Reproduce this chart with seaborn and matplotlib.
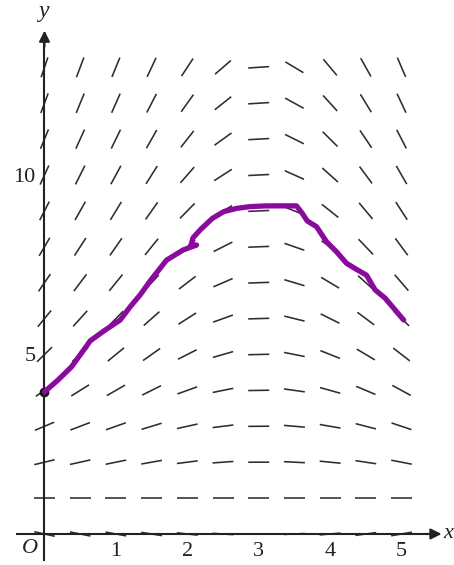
import numpy as np
import matplotlib
matplotlib.use("Agg")
import matplotlib.pyplot as plt
import seaborn as sns
from matplotlib.collections import LineCollection

# slope field grid
x_cols = [0.0, 0.5, 1.0, 1.5, 2.0, 2.5, 3.0, 3.5, 4.0, 4.5, 5.0]
y_rows = [0, 1, 2, 3, 4, 5, 6, 7, 8, 9, 10, 11, 12, 13]
# slope at (x, y) ~ x_factor[x] * y_factor[y]
x_factor = [2.2, 2.0, 1.85, 1.6, 1.15, 0.65, 0.05, -0.45, -0.9, -1.35, -1.75]
y_factor = [-0.2, 0.0, 0.22, 0.38, 0.62, 0.88, 1.10, 1.32, 1.54, 1.76, 1.98, 2.20, 2.42, 2.64]

# hand-drawn solution curve through (0, 4)
curve_x = [0.0, 0.19, 0.38, 0.5, 0.64, 0.82, 1.06, 1.2, 1.34, 1.48, 1.71, 1.94, 2.13,
           2.05, 2.08, 2.18, 2.35, 2.51, 2.69, 2.88, 3.11, 3.35, 3.53, 3.61, 3.68, 3.81,
           3.95, 4.09, 4.23, 4.37, 4.51, 4.63, 4.77, 4.89, 5.03]
curve_y = [3.96, 4.29, 4.66, 4.99, 5.38, 5.64, 5.96, 6.33, 6.66, 7.05, 7.63, 7.91, 8.05,
           8.03, 8.25, 8.47, 8.79, 8.98, 9.07, 9.12, 9.14, 9.14, 9.14, 8.93, 8.72, 8.56,
           8.14, 7.86, 7.54, 7.37, 7.21, 6.80, 6.57, 6.29, 5.96]

x_ticks = [1, 2, 3, 4, 5]
y_ticks = [5, 10]

sns.set_style("white")
plt.rcParams["font.family"] = ["Liberation Serif", "DejaVu Serif"]

fig = plt.figure(figsize=(4.54, 5.65), dpi=100)
ax = fig.add_axes([0, 0, 1, 1])
ax.set_xlim(-0.623, 5.735)
ax.set_ylim(-0.864, 14.875)

# pixel scale so all segments have the same on-screen length
p0, p1 = ax.transData.transform([(0, 0), (1, 1)])
sx, sy = p1 - p0
half = 10.5
segs = []
for j, yv in enumerate(y_rows):
    for i, xv in enumerate(x_cols):
        s = x_factor[i] * y_factor[j]
        th = np.arctan2(s * sy, sx)
        dx = half * np.cos(th) / sx
        dy = half * np.sin(th) / sy
        segs.append([(xv - dx, yv - dy), (xv + dx, yv + dy)])
ax.add_collection(LineCollection(segs, colors="#2e2e2e", linewidths=1.15, zorder=2))

# axes through the origin
axis_col = "#222222"
for side in ["top", "right"]:
    ax.spines[side].set_visible(False)
ax.spines["left"].set_position(("data", 0))
ax.spines["bottom"].set_position(("data", 0))
ax.spines["left"].set_bounds(-0.72, 13.8)
ax.spines["bottom"].set_bounds(-0.38, 5.35)
for side in ["left", "bottom"]:
    ax.spines[side].set_linewidth(1.5)
    ax.spines[side].set_color(axis_col)
    ax.spines[side].set_zorder(3)
ax.annotate("", xy=(5.6, 0), xytext=(5.3, 0),
            arrowprops=dict(arrowstyle="-|>", color=axis_col, lw=1.5, mutation_scale=16))
ax.annotate("", xy=(0, 14.1), xytext=(0, 13.5),
            arrowprops=dict(arrowstyle="-|>", color=axis_col, lw=1.5, mutation_scale=16))

ax.set_xticks(x_ticks)
ax.set_yticks(y_ticks)
ax.set_xticklabels([str(t) for t in x_ticks])
ax.set_yticklabels([str(t) for t in y_ticks])
ax.tick_params(direction="inout", length=9, width=1.1, colors=axis_col,
               labelsize=16, pad=1)
ax.tick_params(axis="y", pad=2)

ax.text(0, 14.55, "y", style="italic", fontsize=17, ha="center", va="center", color=axis_col)
ax.text(5.725, 0.02, "x", style="italic", fontsize=16, ha="right", va="center", color=axis_col)
ax.text(-0.2, -0.4, "O", style="italic", fontsize=16, ha="center", va="center", color=axis_col)

# solution curve
sns.lineplot(x=curve_x, y=curve_y, sort=False, estimator=None, ax=ax,
             color="#8B0A9E", linewidth=3.8, solid_capstyle="round",
             solid_joinstyle="round", zorder=4)
ax.plot([curve_x[0]], [curve_y[0]], "o", color="#111111", markersize=6, zorder=3)

fig.savefig("out.png", dpi=100)
